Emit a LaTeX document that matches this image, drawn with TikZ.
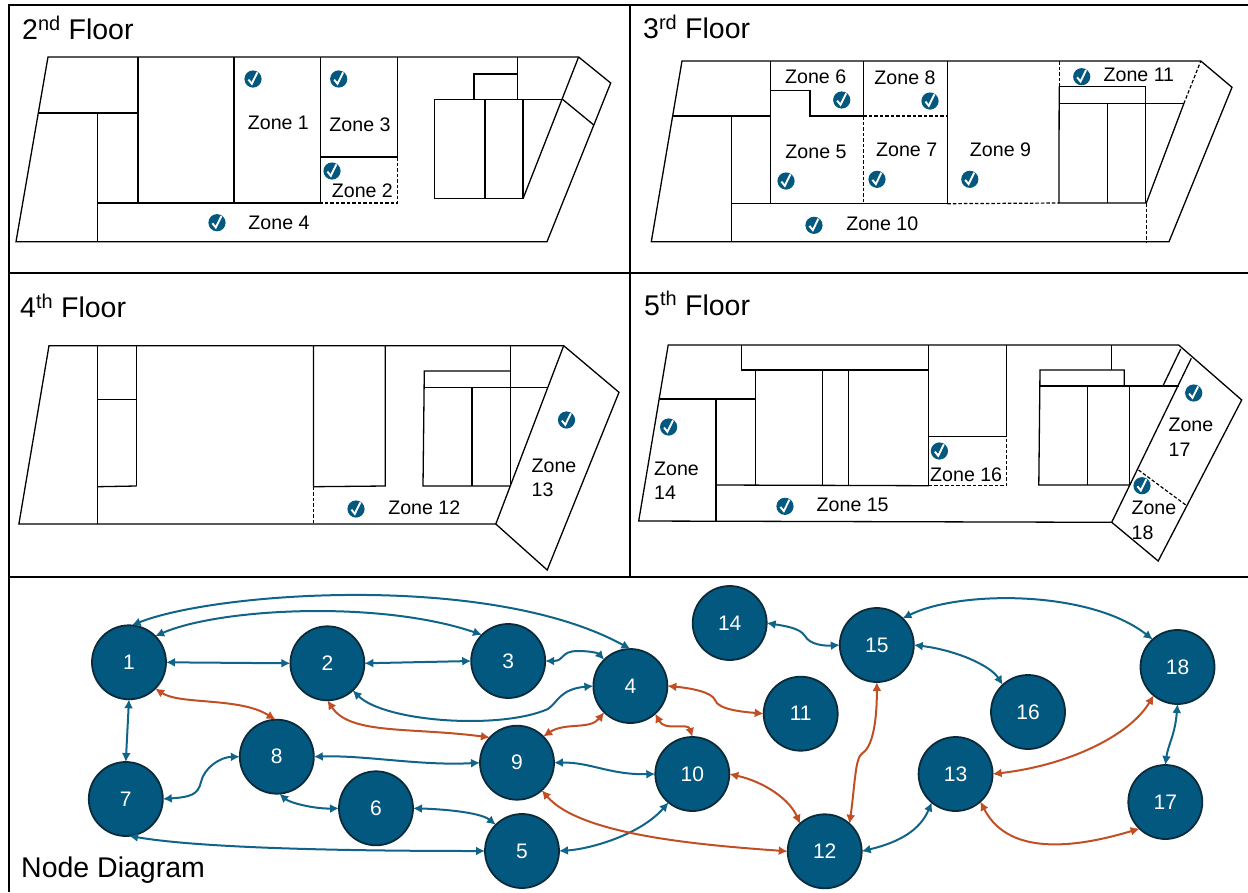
\documentclass[tikz,border=0pt]{standalone}
\usepackage{fontspec}
\setmainfont{Liberation Sans}
\usetikzlibrary{arrows.meta}
\definecolor{nodeblue}{HTML}{03587F}
\definecolor{nodeedge}{HTML}{0B2A3A}
\definecolor{linkblue}{HTML}{0F6488}
\definecolor{linkhot}{HTML}{C24F24}
\newcommand{\zoneCheck}[2]{%
  \begin{scope}[shift={(#1,#2)}]
    \fill[nodeblue] (0,0) circle (8.6);
    \draw[white,line width=1.9pt] (-4.6,0.6) -- (-1.2,4.8) -- (4.4,-6.6);
  \end{scope}}

\begin{document}
\begin{tikzpicture}[x=1pt,y=-1pt,
    wall/.style={line width=1.3pt,line join=miter},
    softwall/.style={line width=1.2pt,dash pattern=on 3.5pt off 2pt},
    panelline/.style={line width=2.4pt},
    floorname/.style={font=\fontsize{28.5}{32}\selectfont,anchor=base west,inner sep=0pt},
    zonename/.style={font=\fontsize{19.6}{24.5}\selectfont,inner sep=0pt},
    zonestack/.style={zonename,align=left,anchor=west},
    zonenode/.style={circle,fill=nodeblue,draw=nodeedge,line width=1.8pt,minimum size=74pt,inner sep=0pt,outer sep=0pt,text=white,font=\fontsize{21}{24}\selectfont},
    link/.style={draw=linkblue,line width=2pt,{Latex[length=9pt,width=9pt]}-{Latex[length=9pt,width=9pt]}},
    hotlink/.style={link,draw=linkhot}]
  \useasboundingbox (0,0) rectangle (1248,892);

  % panels
  \draw[panelline] (1248,5) -- (9,5) -- (9,892);
  \draw[panelline] (9,273) -- (1248,273);
  \draw[panelline] (9,577) -- (1248,577);
  \draw[panelline] (630,5) -- (630,577);
  \node[floorname] (titleB) at (22,39.5) {2\textsuperscript{nd} Floor};
  \node[floorname] (titleC) at (643,38.7) {3\textsuperscript{rd} Floor};
  \node[floorname] (titleD) at (20,317.7) {4\textsuperscript{th} Floor};
  \node[floorname] (titleE) at (644,315) {5\textsuperscript{th} Floor};
  \node[floorname] (titleN) at (21,877.7) {Node Diagram};

  % 2nd floor
  \draw[wall] (48,57) -- (578.6,57) -- (610.7,83) -- (547,241.7) -- (16,241.7) -- cycle;
  \draw[wall] (138,57) -- (138,203);
  \draw[wall] (39,113) -- (138,113);
  \draw[wall] (97.6,113) -- (97.6,241.7);
  \draw[wall] (97.6,203) -- (320.6,203);
  \draw[wall] (234,57) -- (234,203);
  \draw[wall] (320.6,57) -- (320.6,203);
  \draw[wall] (397.8,57) -- (397.8,157);
  \draw[wall] (320.6,157) -- (397.8,157);
  \draw[softwall] (397.8,157) -- (397.8,203) -- (320.6,203);
  \draw[wall] (434.7,99.3) rectangle (523,198.7);
  \draw[wall] (485,99.3) -- (485,198.7);
  \draw[wall] (523,99.3) -- (562.5,99.3);
  \draw[wall] (474,99.3) -- (474,74) -- (517.5,74);
  \draw[wall] (517.5,57) -- (517.5,99.3);
  \draw[wall] (523,198.7) -- (578.6,57);
  \draw[wall] (562.5,99.3) -- (593.8,125);
  \zoneCheck{253}{79}
  \zoneCheck{338.7}{79}
  \zoneCheck{332}{171}
  \zoneCheck{217}{222.7}
  \node[zonename] (zoneA) at (278.4,123.3) {Zone 1};
  \node[zonename] (zoneC) at (360,125) {Zone 3};
  \node[zonename] (zoneB) at (362.4,190.7) {Zone 2};
  \node[zonename] (zoneD) at (279,223.3) {Zone 4};

  % 3rd floor
  \draw[wall] (682,61) -- (1200.8,61) -- (1232,87.3) -- (1169,241.7) -- (651.3,241.7) -- cycle;
  \draw[wall] (770.3,61) -- (770.3,203.7);
  \draw[wall] (673.4,116) -- (770.3,116);
  \draw[wall] (731.3,116) -- (731.3,241.7);
  \draw[wall] (731.3,203.7) -- (947.3,203.7);
  \draw[softwall] (947.3,203.7) -- (1058.9,203);
  \draw[wall] (770.3,90.3) -- (810,90.3) -- (810,116) -- (863.3,116);
  \draw[softwall] (863.3,116) -- (947.3,116);
  \draw[wall] (863.3,61) -- (863.3,116);
  \draw[softwall] (863.3,116) -- (863.3,203.7);
  \draw[wall] (947.3,61) -- (947.3,203.7);
  \draw[softwall] (1059.6,61) -- (1059.6,86.7);
  \draw[wall] (1059.6,86.7) -- (1145.6,86.7) -- (1145.6,203);
  \draw[wall] (1059.2,86.7) -- (1058.9,203) -- (1146.3,203);
  \draw[wall] (1058.9,103.7) -- (1183.8,103.7);
  \draw[wall] (1107.7,103.7) -- (1107.7,203);
  \draw[wall] (1146.3,203) -- (1183.8,103.7);
  \draw[softwall] (1183.8,103.7) -- (1200.8,61);
  \draw[softwall] (1146.7,203) -- (1146.7,241.7);
  \zoneCheck{841.7}{100}
  \zoneCheck{930}{101}
  \zoneCheck{786}{181}
  \zoneCheck{877}{179.3}
  \zoneCheck{969.8}{179.3}
  \zoneCheck{1081.7}{76.7}
  \zoneCheck{814}{225.3}
  \node[zonename] (zoneF) at (815.7,77) {Zone 6};
  \node[zonename] (zoneH) at (905,78) {Zone 8};
  \node[zonename] (zoneK) at (1138.9,74.7) {Zone 11};
  \node[zonename] (zoneE) at (816,151.7) {Zone 5};
  \node[zonename] (zoneG) at (906.7,150) {Zone 7};
  \node[zonename] (zoneI) at (1000.5,150) {Zone 9};
  \node[zonename] (zoneJ) at (882.3,224) {Zone 10};

  % 4th floor
  \draw[wall] (49,345.7) -- (563.7,345.7) -- (619,392.3) -- (547.2,570) -- (495.8,524) -- (18.9,524) -- cycle;
  \draw[wall] (97.6,345.7) -- (97.6,524);
  \draw[wall] (136.6,345.7) -- (136.6,486);
  \draw[wall] (97.6,399.7) -- (136.6,399.7);
  \draw[wall] (97.6,486.7) -- (136.6,486);
  \draw[wall] (313.4,345.7) -- (313.4,486.7) -- (385.3,486) -- (385.3,345.7);
  \draw[softwall] (313.4,486.7) -- (313.4,524);
  \draw[wall] (510.2,345.7) -- (510.2,486);
  \draw[wall] (510.2,371) -- (424.3,371) -- (423,486) -- (510.2,486);
  \draw[wall] (424.3,387.3) -- (547.2,387.3);
  \draw[wall] (472,387.3) -- (472,486);
  \draw[wall] (495.8,524) -- (563.7,345.7);
  \zoneCheck{356}{509}
  \zoneCheck{566.5}{420}
  \node[zonename] (zoneL) at (424.3,507.3) {Zone 12};
  \node[zonestack] (zoneM) at (531.5,477.8) {Zone\\13};

  % 5th floor
  \draw[wall] (668.2,345) -- (1178.7,345) -- (1241.7,400) -- (1158.2,561) -- (1111.7,522.3) -- (638.7,521) -- cycle;
  \draw[wall] (741.5,345) -- (741.5,370) -- (928.8,370);
  \draw[wall] (755.3,370) -- (755.3,485);
  \draw[wall] (660.4,399) -- (755.3,399);
  \draw[wall] (716,399) -- (716,521);
  \draw[wall] (716,485) -- (928.8,485.7);
  \draw[softwall] (928.8,485.7) -- (1006.4,485.7) -- (1006.4,436.3);
  \draw[wall] (822.4,370) -- (822.4,485);
  \draw[wall] (848.8,370) -- (848.8,485);
  \draw[wall] (928.8,345) -- (928.8,485.7);
  \draw[wall] (1006.4,345) -- (1006.4,436.3) -- (928.8,436.3);
  \draw[wall] (1111.7,345) -- (1111.7,370);
  \draw[wall] (1124.3,386) -- (1124.3,370) -- (1040,370) -- (1038.8,485) -- (1129.4,485);
  \draw[wall] (1040,386) -- (1178.7,386);
  \draw[wall] (1087.2,386) -- (1087.2,485);
  \draw[wall] (1129.4,386) -- (1129.4,485);
  \draw[wall] (1162.9,386) -- (1180.7,349);
  \draw[wall] (1111.7,522.3) -- (1191.3,358.3);
  \draw[softwall] (1138.5,470) -- (1185.8,505);
  \zoneCheck{668.6}{427}
  \zoneCheck{939.4}{451}
  \zoneCheck{1193.7}{393}
  \zoneCheck{1142}{485.7}
  \zoneCheck{785}{506.3}
  \node[zonestack] (zoneN) at (654,480.5) {Zone\\14};
  \node[zonename] (zoneO) at (852.7,504.7) {Zone 15};
  \node[zonename] (zoneP) at (966.2,475) {Zone 16};
  \node[zonestack] (zoneQ) at (1168.4,437) {Zone\\17};
  \node[zonestack] (zoneR) at (1131.4,520.5) {Zone\\18};

  % node diagram
  \foreach \name/\x/\y in {1/129/662.3,2/327.4/663.3,3/508.2/661,4/630.4/686,5/522/851,6/376/808.3,
      7/125.8/799,8/276.8/756.7,9/517/762.7,10/692.3/774,11/800.7/713.7,12/824.7/851.3,
      13/955.6/774,14/729.7/623,15/876.8/645,16/1028/712,17/1165.3/802,18/1177.5/667}
    \node[zonenode] (n\name) at (\x,\y) {\name};

  \draw[link] (n1.86) .. controls (215,592) and (490,572) .. (n4.90);
  \draw[link] (n1.45) .. controls (220,608) and (380,600) .. (n3.135);
  \draw[link] (n1.east) -- (n2.west);
  \draw[link] (n2.east) -- (n3.west);
  \draw[link] (n3.east) .. controls (565,661) and (560,651) .. (578,651) .. controls (590,651) and (598,653) .. (n4.135);
  \draw[link] (n2.-47) .. controls (385,722) and (500,730) .. (548,709) .. controls (558,702) and (560,689) .. (n4.west);
  \draw[hotlink] (n1.-45) .. controls (180,705) and (240,697) .. (n8.92);
  \draw[hotlink] (n2.south) .. controls (350,735) and (410,727) .. (n9.137);
  \draw[hotlink] (n9.45) .. controls (565,722) and (590,730) .. (n4.-135);
  \draw[link] (n1.south) -- (n7.north);
  \draw[link] (n7.east) .. controls (190,797) and (198,795) .. (201,782) .. controls (204,768) and (220,757) .. (n8.west);
  \draw[link] (n8.east) .. controls (365,755) and (420,766) .. (n9.west);
  \draw[link] (n8.-86) .. controls (290,803) and (315,809) .. (n6.west);
  \draw[link] (n6.east) .. controls (440,809) and (480,812) .. (n5.135);
  \draw[link] (n7.-85) .. controls (200,848) and (340,851) .. (n5.west);
  \draw[link] (n9.east) .. controls (590,762) and (610,775) .. (n10.west);
  \draw[link] (n5.east) .. controls (590,849) and (640,835) .. (n10.-130);
  \draw[hotlink] (n9.-48) .. controls (580,835) and (700,845) .. (n12.west);
  \draw[hotlink] (n4.-48) .. controls (665,732) and (688,722) .. (n10.north);
  \draw[hotlink] (n4.east) .. controls (690,688) and (712,692) .. (715,700) .. controls (718,710) and (745,712) .. (n11.west);
  \draw[hotlink] (n10.east) .. controls (765,782) and (790,800) .. (n12.132);
  \draw[hotlink] (n12.48) .. controls (855,785) and (855,757) .. (862.6,753) .. controls (875,745) and (877,710) .. (n15.south);
  \draw[link] (n12.east) .. controls (900,842) and (920,830) .. (n13.-130);
  \draw[hotlink] (n13.east) .. controls (1070,765) and (1130,735) .. (n18.-130);
  \draw[hotlink] (n13.-48) .. controls (1010,860) and (1085,845) .. (n17.-134);
  \draw[link] (n17.north) .. controls (1168,745) and (1175,735) .. (n18.south);
  \draw[link] (n14.east) .. controls (785,626) and (800,628) .. (805,636) .. controls (810,645) and (825,646) .. (n15.west);
  \draw[link] (n15.east) .. controls (955,650) and (990,665) .. (n16.133);
  \draw[link] (n15.46) .. controls (960,590) and (1090,590) .. (n18.132);
\end{tikzpicture}
\end{document}
